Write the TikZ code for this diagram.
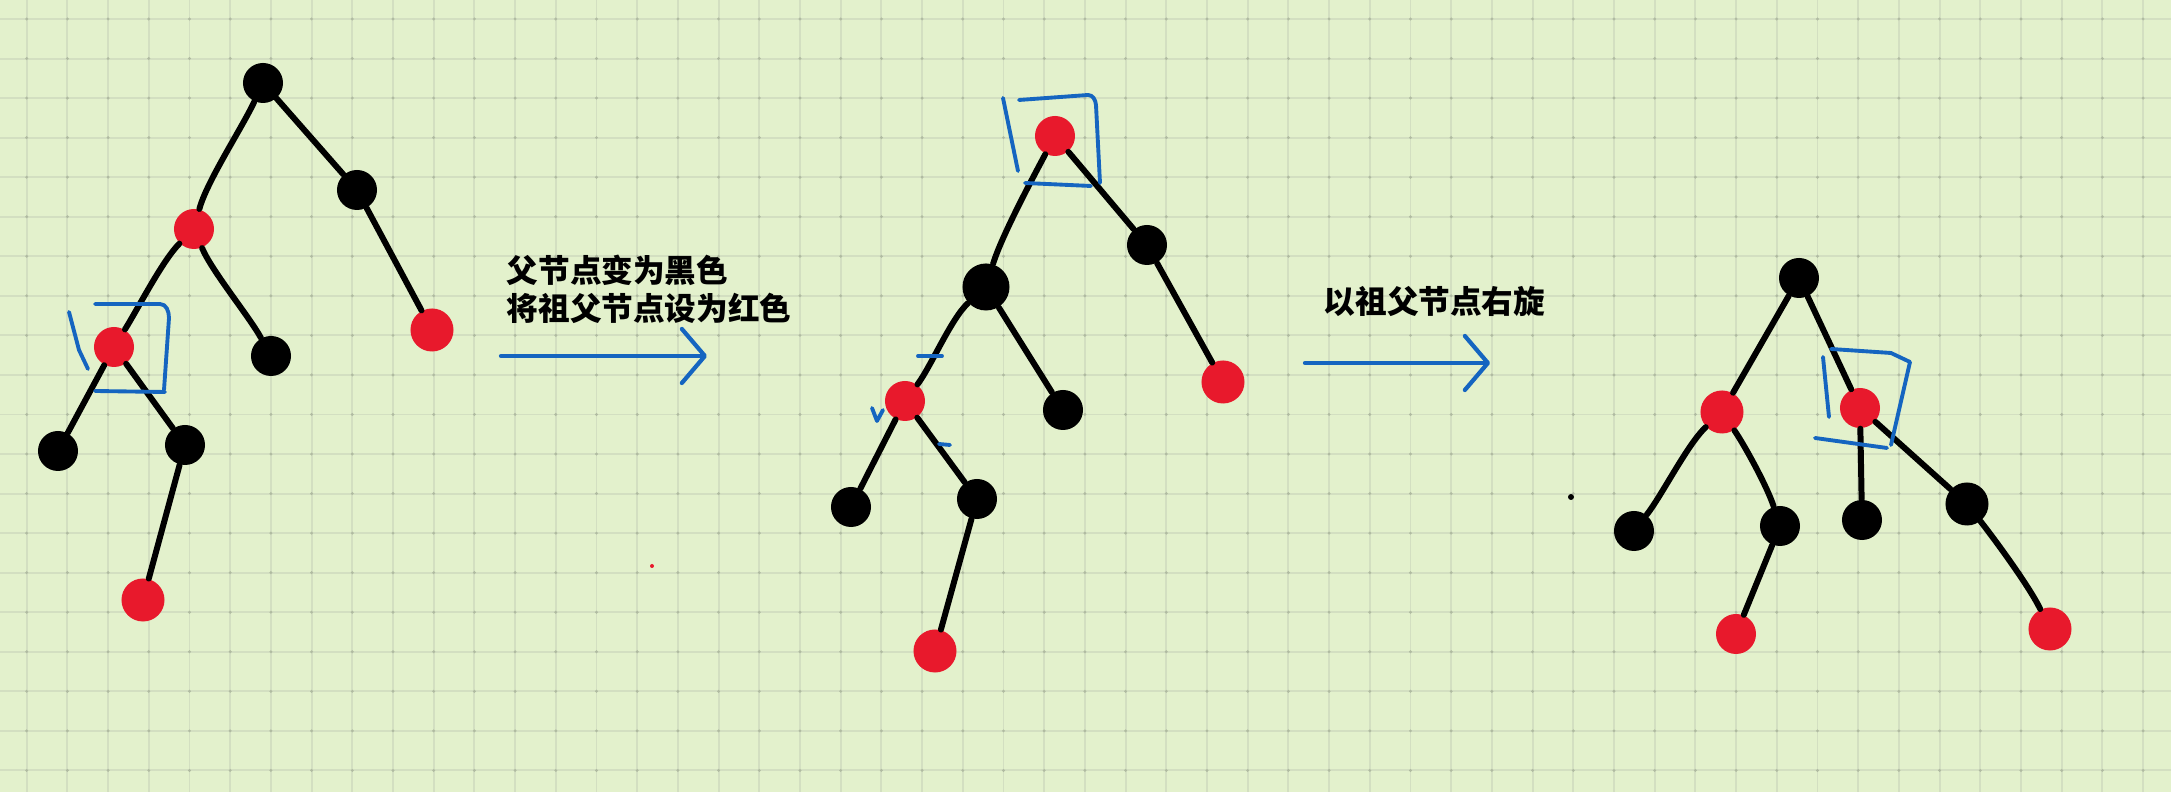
\documentclass[tikz,border=0pt]{standalone}
\usepackage{fontspec}
\usepackage{tikz}
\usetikzlibrary{arrows.meta}
\newfontfamily\cjk{Noto Sans CJK SC}
\definecolor{paper}{RGB}{227,241,204}
\definecolor{gridgreen}{RGB}{211,223,193}
\definecolor{griddot}{RGB}{176,187,161}
\definecolor{inkred}{RGB}{232,25,44}
\definecolor{inkblue}{RGB}{21,101,192}

\begin{document}
\begin{tikzpicture}[x=0.01cm, y=-0.01cm,
  blk/.style={circle, fill=black, minimum size=4mm, inner sep=0pt},
  rd/.style={circle, fill=inkred, minimum size=4mm, inner sep=0pt},
  link/.style={line width=1.7pt, line cap=round, looseness=0.6},
  hilite/.style={inkblue, line width=1.1pt, line cap=round, line join=round},
  flow/.style={inkblue, line width=1.2pt, line cap=round,
               -{Straight Barb[length=2.3mm, width=5.4mm, round]}},
  say/.style={font=\cjk\bfseries\fontsize{9}{10.8}\selectfont, align=left,
              inner sep=0pt, anchor=west},
]
\useasboundingbox (0,0) rectangle (2171,792);
\fill[paper] (0,0) rectangle (2171,792);
\foreach \i in {0,...,52}
  \draw[gridgreen, line width=0.55pt] ({26.7+40.7*\i},0) -- ({26.7+40.7*\i},792);
\foreach \j in {0,...,19}
  \draw[gridgreen, line width=0.55pt] (0,{19+39.55*\j}) -- (2171,{19+39.55*\j});
\foreach \i in {0,...,52}
  \foreach \j in {0,...,19}
    \fill[griddot] ({26.7+40.7*\i},{19+39.55*\j}) circle[radius=1.6];

% before
\node[blk] (t1a) at (263,83) {};
\node[rd]  (t1b) at (194,229) {};
\node[blk] (t1c) at (357,190) {};
\node[rd]  (t1d) at (114,347) {};
\node[blk] (t1e) at (271,356) {};
\node[rd, minimum size=4.3mm] (t1f) at (432,330) {};
\node[blk] (t1g) at (58,451) {};
\node[blk] (t1h) at (185,445) {};
\node[rd, minimum size=4.3mm] (t1i) at (143,600) {};

\draw[link] (t1a) to[out=-115, in=75] (t1b);
\draw[link] (t1a) -- (t1c);
\draw[link] (t1c) -- (t1f);
\draw[link] (t1b) to[out=-135, in=58] (t1d);
\draw[link] (t1b) to[out=-67, in=119] (t1e);
\draw[link] (t1d) -- (t1g);
\draw[link] (t1d) -- (t1h);
\draw[link] (t1h) -- (t1i);

\draw[hilite] (69,312) -- (79,350) -- (88,369);
\draw[hilite] (95,304) -- (160,304) to[out=0, in=90] (169,318) -- (164,390);
\draw[hilite] (95,391) -- (165,392);

\coordinate (f1s) at (501,356);
\coordinate (f1e) at (707,356);
\draw[flow] (f1s) -- (f1e);
\node[say] (say1) at (506,289) {父节点变为黑色\\将祖父节点设为红色};
\fill[inkred] (652,566) circle[radius=2];

% recolour
\node[rd]  (t2a) at (1055,136) {};
\node[blk, minimum size=4.7mm] (t2b) at (986,287) {};
\node[blk] (t2c) at (1147,245) {};
\node[rd]  (t2d) at (905,401) {};
\node[blk] (t2e) at (1063,410) {};
\node[rd, minimum size=4.3mm] (t2f) at (1223,382) {};
\node[blk] (t2g) at (851,507) {};
\node[blk] (t2h) at (977,499) {};
\node[rd, minimum size=4.3mm] (t2i) at (935,651) {};

\draw[link] (t2a) to[out=-118, in=73] (t2b);
\draw[link] (t2a) -- (t2c);
\draw[link] (t2c) -- (t2f);
\draw[link] (t2b) to[out=-138, in=53] (t2d);
\draw[link] (t2b) -- (t2e);
\draw[link] (t2d) -- (t2g);
\draw[link] (t2d) -- (t2h);
\draw[link] (t2h) -- (t2i);

\draw[hilite] (1003,98) -- (1018,171);
\draw[hilite] (1019,100) -- (1088,95) to[out=0, in=95] (1096,105) -- (1100,183);
\draw[hilite] (1025,183) -- (1091,186);
\draw[hilite] (918,356) -- (942,356);
\draw[hilite] (872,408) -- (877,421) -- (883,410);
\draw[hilite] (939,444) -- (950,445);

\coordinate (f2s) at (1305,363);
\coordinate (f2e) at (1490,363);
\draw[flow] (f2s) -- (f2e);
\node[say] (say2) at (1323,302) {以祖父节点右旋};
\fill[black] (1571,497) circle[radius=3];

% rotated
\node[blk] (t3a) at (1799,278) {};
\node[rd, minimum size=4.3mm] (t3b) at (1722,412) {};
\node[rd]  (t3c) at (1860,408) {};
\node[blk] (t3d) at (1634,531) {};
\node[blk] (t3e) at (1780,526) {};
\node[blk] (t3f) at (1862,520) {};
\node[blk, minimum size=4.3mm] (t3g) at (1967,504) {};
\node[rd]  (t3h) at (1736,634) {};
\node[rd, minimum size=4.3mm] (t3i) at (2050,629) {};

\draw[link] (t3a) -- (t3b);
\draw[link] (t3a) -- (t3c);
\draw[link] (t3b) to[out=-137, in=52] (t3d);
\draw[link] (t3b) to[out=-56, in=108] (t3e);
\draw[link] (t3e) -- (t3h);
\draw[link] (t3c) -- (t3f);
\draw[link] (t3c) -- (t3g);
\draw[link] (t3g) to[out=-52, in=116] (t3i);

\draw[hilite] (1823,357) -- (1829,417);
\draw[hilite] (1831,349) -- (1891,353) -- (1910,362) -- (1891,445);
\draw[hilite] (1815,438) -- (1887,448);
\end{tikzpicture}
\end{document}
